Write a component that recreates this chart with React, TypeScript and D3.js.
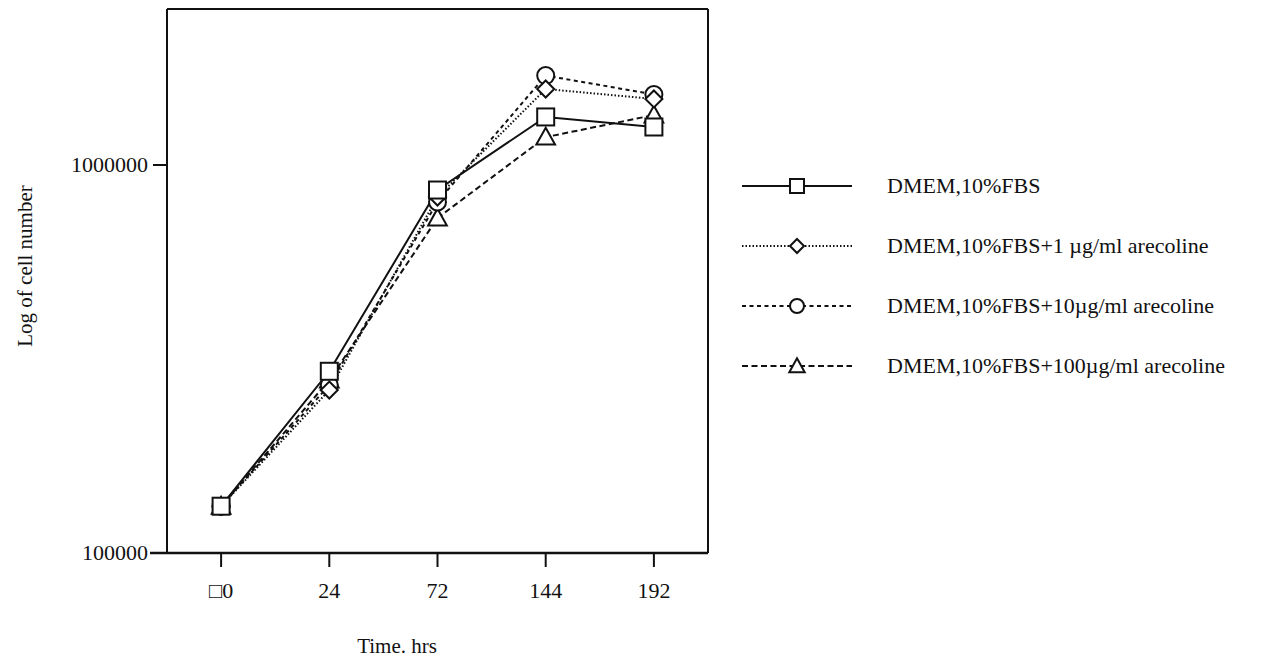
import React from 'react';
import * as d3 from 'd3';

const hours = ['0', '24', '72', '144', '192'];
const tickLabels = ['\u25A10', '24', '72', '144', '192'];

const seriesNames = [
  'DMEM,10%FBS',
  'DMEM,10%FBS+1 \u00B5g/ml arecoline',
  'DMEM,10%FBS+10\u00B5g/ml arecoline',
  'DMEM,10%FBS+100\u00B5g/ml arecoline',
];
const plainValues = [132000, 294000, 862000, 1330000, 1253000];
const low1Values = [132000, 263000, 827000, 1570000, 1480000];
const mid10Values = [132000, 271000, 803000, 1700000, 1520000];
const high100Values = [132000, 279000, 730000, 1180000, 1345000];
const yTicks = [100000, 1000000];

const font = '"Liberation Serif", "Times New Roman", serif';

const series = [
  { name: seriesNames[0], values: plainValues, marker: 'square', dash: null },
  { name: seriesNames[1], values: low1Values, marker: 'diamond', dash: '1.5,2' },
  { name: seriesNames[2], values: mid10Values, marker: 'circle', dash: '4,3.5' },
  { name: seriesNames[3], values: high100Values, marker: 'triangle', dash: '6,3.5' },
];

const Marker = ({ type, x, y, s }: { type: string; x: number; y: number; s: number }) => {
  const common = { fill: '#fff', stroke: '#111', strokeWidth: 2 };
  if (type === 'square') return <rect x={x - s / 2} y={y - s / 2} width={s} height={s} {...common} />;
  if (type === 'circle') return <circle cx={x} cy={y} r={s / 2} {...common} />;
  if (type === 'diamond') {
    const h = s * 0.5;
    return <path d={`M${x},${y - h}L${x + h},${y}L${x},${y + h}L${x - h},${y}Z`} {...common} />;
  }
  const h = s * 0.55;
  return <path d={`M${x},${y - h}L${x + h},${y + h * 0.8}L${x - h},${y + h * 0.8}Z`} {...common} />;
};

export default function App() {
  const W = 1288, H = 669;
  const left = 167, right = 708, top = 9, bottom = 553;

  const x = d3.scalePoint<string>().domain(hours).range([left, right]).padding(0.5);
  const y = d3.scaleLog().domain([100000, 1000000]).range([bottom, 165]);

  const line = d3.line<number>()
    .x((_, i) => x(hours[i]) as number)
    .y(d => y(d));

  const drawOrder = [3, 2, 1, 0];

  return (
    <svg width={W} height={H} style={{ position: 'absolute', left: 0, top: 0, background: '#fff' }} fontFamily={font}>
      {/* frame */}
      <line x1={left} x2={left} y1={top} y2={bottom} stroke="#111" strokeWidth={2} />
      <line x1={left} x2={right} y1={top} y2={top} stroke="#111" strokeWidth={2} />
      <line x1={right} x2={right} y1={top} y2={bottom} stroke="#111" strokeWidth={2} />
      <line x1={150} x2={right} y1={bottom} y2={bottom} stroke="#111" strokeWidth={2.5} />

      {/* y ticks */}
      {yTicks.map(t => (
        <g key={t}>
          <line x1={153} x2={left} y1={y(t)} y2={y(t)} stroke="#111" strokeWidth={2} />
          <text x={148} y={y(t)} dy="0.33em" textAnchor="end" fontSize={22} fill="#111">{t}</text>
        </g>
      ))}

      {/* x ticks */}
      {hours.map((h, i) => (
        <g key={h}>
          <line x1={x(h)} x2={x(h)} y1={bottom} y2={bottom + 14} stroke="#111" strokeWidth={2} />
          <text x={x(h)} y={598} textAnchor="middle" fontSize={22} fill="#111">{tickLabels[i]}</text>
        </g>
      ))}

      <text x={397} y={653} textAnchor="middle" fontSize={21} fill="#111">Time. hrs</text>
      <text transform="translate(32,266) rotate(-90)" textAnchor="middle" fontSize={21} fill="#111">Log of cell number</text>

      {/* lines */}
      {drawOrder.map(k => (
        <path key={k} d={line(series[k].values) || ''} fill="none" stroke="#111" strokeWidth={2}
          strokeDasharray={series[k].dash || undefined} />
      ))}
      {drawOrder.map(k => (
        <g key={k}>
          {series[k].values.map((v, i) => (
            <Marker key={i} type={series[k].marker} x={x(hours[i]) as number} y={y(v)} s={17} />
          ))}
        </g>
      ))}

      {/* legend */}
      {series.map((s, i) => {
        const ly = 186 + i * 60;
        return (
          <g key={s.name}>
            <line x1={742} x2={852} y1={ly} y2={ly} stroke="#111" strokeWidth={2} strokeDasharray={s.dash || undefined} />
            <Marker type={s.marker} x={797} y={ly} s={14} />
            <text x={887} y={ly} dy="0.33em" fontSize={22} fill="#111">{s.name}</text>
          </g>
        );
      })}
    </svg>
  );
}
